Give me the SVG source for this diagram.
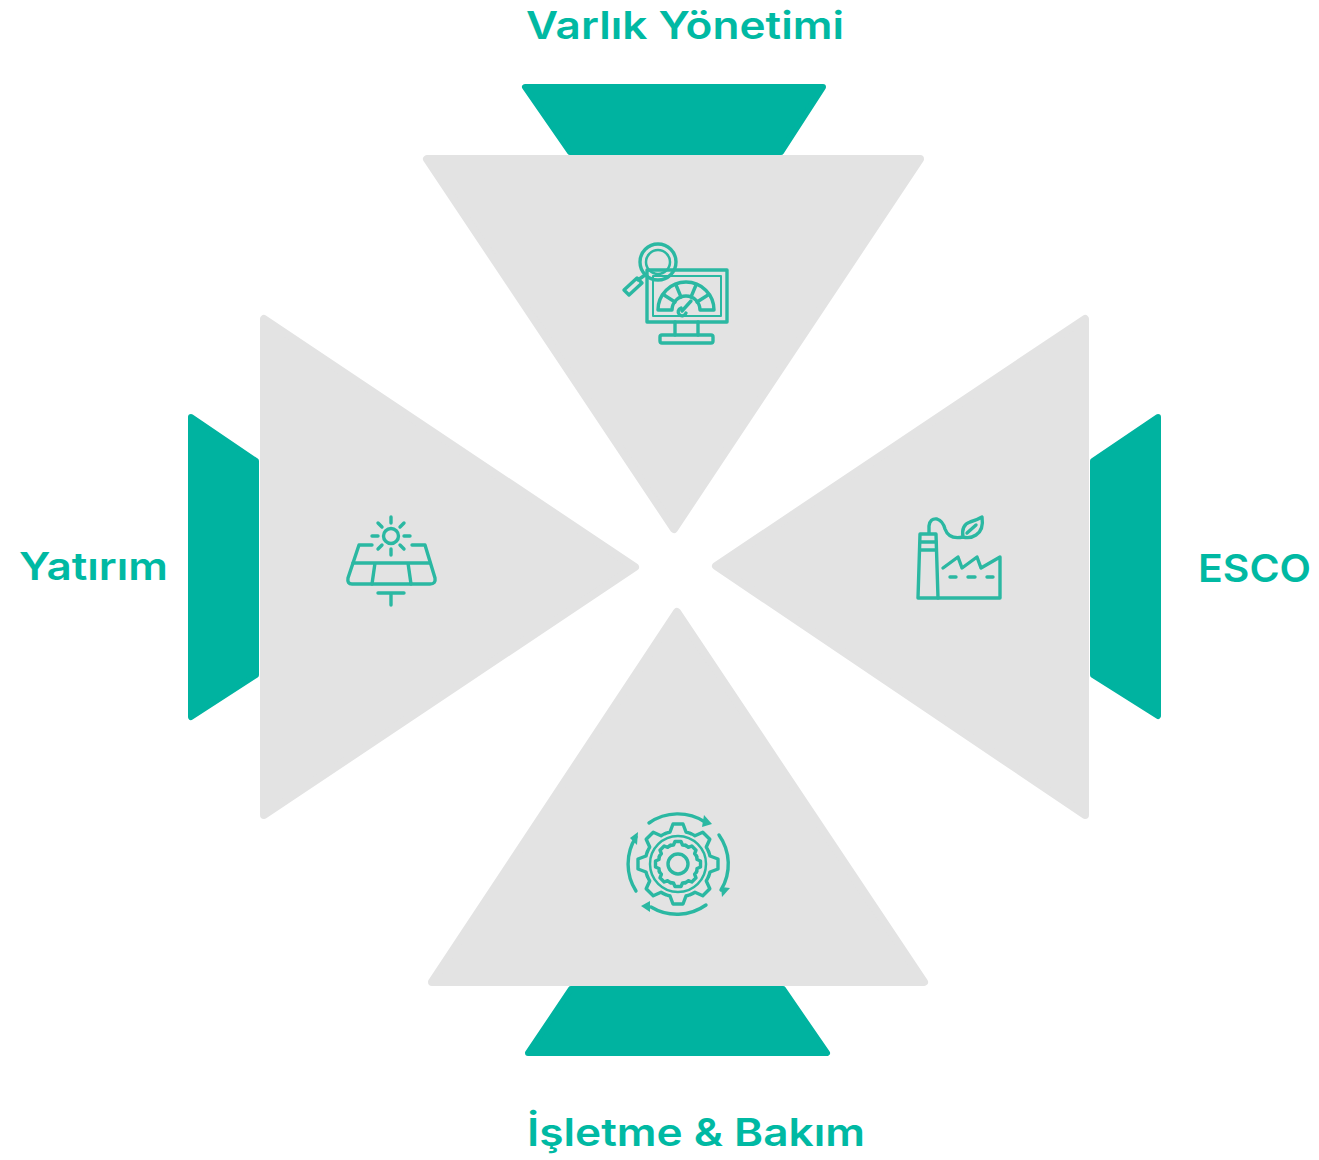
<svg xmlns="http://www.w3.org/2000/svg" width="1319" height="1160" viewBox="0 0 1319 1160">
<style>
.tri{fill:#e3e3e3;stroke:#e3e3e3;stroke-width:8;stroke-linejoin:round}
.tab{fill:#00b3a0;stroke:#00b3a0;stroke-width:6;stroke-linejoin:round}
.lbl{font-family:"Inter","Open Sans","Liberation Sans",sans-serif;font-weight:600;font-size:38px;fill:#00b9a3}
.ic{fill:none;stroke:#2bb8a2;stroke-width:3.4;stroke-linecap:round;stroke-linejoin:round}
.ah{fill:#2bb8a2}
</style>
<defs>
<path id="tooth" d="M-12.6-30.5Q-10-31.5-8-32L-5-40H5L8-32Q10-31.5 12.6-30.5"/>
<path id="wave" d="M-8-18.5Q-6-19-4.5-19L-3-22.5H3L4.5-19Q6-19 8-18.5"/>
</defs>
<rect width="1319" height="1160" fill="#fff"/>
<g id="node-varlik">
<polygon class="tab" points="525,87 823,87 781,152 570,152"/>
<polygon class="tri" points="427,159 920,159 674,529"/>
<g class="ic">
<rect x="647" y="270" width="80" height="52"/>
<path d="M653 276H721V316H653Z" stroke-width="2"/>
<path d="M658 310A28 28 0 0 1 714 310H700A14 14 0 0 0 672 310Z"/>
<path d="M664 295L675 302M676 285L681 297M696 285L691 297M708 295L697 302"/>
<path d="M682 311L691 301M686 313A4 4 0 1 1 681 308"/>
<path d="M675 322V335M698 322V335"/>
<rect x="660" y="335" width="53" height="8" rx="2"/>
<circle cx="658" cy="262" r="18"/>
<circle cx="658" cy="262" r="12" stroke-width="2.5"/>
<path d="M645 275L638 280M637 278L624 290L629 295L642 283Z"/>
</g>
<text class="lbl" x="526" y="39" textLength="318" lengthAdjust="spacingAndGlyphs">Varlık Yönetimi</text>
</g>
<g id="node-yatirim">
<polygon class="tab" points="191,417 256,461 256,675 191,717"/>
<polygon class="tri" points="264,319 264,815 635,567"/>
<g class="ic">
<circle cx="391" cy="536" r="7.5"/>
<path d="M391 517V523M391 549V555M372 536H378M404 536H410M378 523L382 527M404 523L400 527M378 549L382 545M404 549L400 545"/>
<path d="M372 545H359L348 578Q347 584 352 584H430Q436 584 435 578L425 545H412"/>
<path d="M353 563H430M375 563L372 584M408 563L411 584"/>
<path d="M378 593H404M391 593V605"/>
</g>
<text class="lbl" x="19" y="580" textLength="149" lengthAdjust="spacingAndGlyphs">Yatırım</text>
</g>
<g id="node-esco">
<polygon class="tab" points="1158,417 1093,461 1093,675 1158,716"/>
<polygon class="tri" points="1085,319 1085,815 716,566"/>
<g class="ic">
<path d="M920 534H936L938 598H918Z"/>
<path d="M921 542H936M921 550H936"/>
<path d="M938 598H1000V557L981 568L977 557L962 568L958 557L943 568"/>
<path d="M950 577H956M968 577H975M987 577H993"/>
<path d="M929 533V526Q930 518 937 519Q943 521 945 529Q949 540 963 537"/>
<path d="M963 537Q961 525 970 522Q977 520 982 517Q984 530 976 535Q970 539 963 537ZM967 533L976 525"/>
</g>
<text class="lbl" x="1198" y="582" textLength="113" lengthAdjust="spacingAndGlyphs">ESCO</text>
</g>
<g id="node-isletme">
<polygon class="tab" points="571,989 783,989 827,1053 528,1053"/>
<polygon class="tri" points="677,612 924,982 432,982"/>
<g class="ic" transform="translate(678 864)">
<use href="#tooth"/><use href="#tooth" transform="rotate(45)"/><use href="#tooth" transform="rotate(90)"/><use href="#tooth" transform="rotate(135)"/><use href="#tooth" transform="rotate(180)"/><use href="#tooth" transform="rotate(225)"/><use href="#tooth" transform="rotate(270)"/><use href="#tooth" transform="rotate(315)"/>
<circle r="28" stroke-width="2.5"/>
<use href="#wave"/><use href="#wave" transform="rotate(45)"/><use href="#wave" transform="rotate(90)"/><use href="#wave" transform="rotate(135)"/><use href="#wave" transform="rotate(180)"/><use href="#wave" transform="rotate(225)"/><use href="#wave" transform="rotate(270)"/><use href="#wave" transform="rotate(315)"/>
<circle r="10"/>
<path d="M-29-41A50 50 0 0 1 27-42"/>
<path d="M41-29A50 50 0 0 1 43 26"/>
<path d="M28 41A50 50 0 0 1-27 43"/>
<path d="M-42 27A50 50 0 0 1-42-27"/>
</g>
<g class="ah">
<path d="M704 815L712 824L702 827Z"/><path d="M721 887L730 888L722 897Z"/><path d="M650 901L650 912L641 906Z"/><path d="M630 838L638 832L637 845Z"/>
</g>
<text class="lbl" x="527" y="1146" textLength="338" lengthAdjust="spacingAndGlyphs">İşletme &amp; Bakım</text>
</g>
</svg>
